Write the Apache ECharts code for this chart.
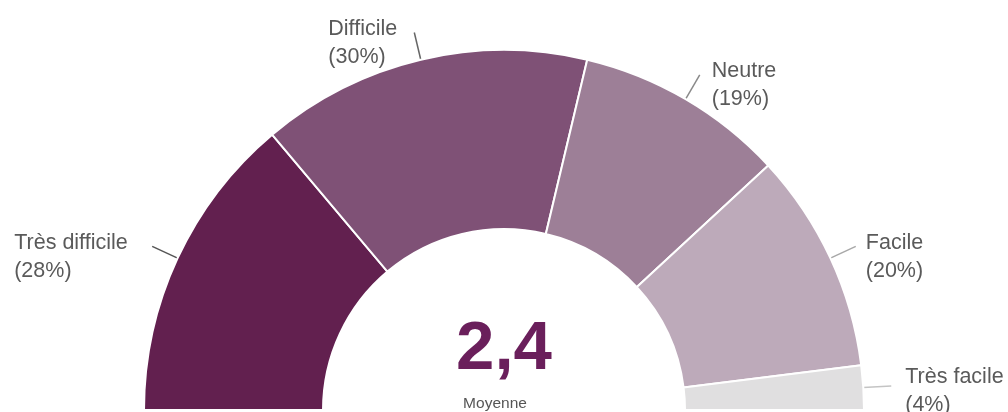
<!DOCTYPE html>
<html>
<head>
<meta charset="utf-8">
<script src="https://cdn.jsdelivr.net/npm/echarts@6/dist/echarts.min.js"></script>
<style>
  html, body { margin: 0; padding: 0; background: #ffffff; }
  #chart { width: 1008px; height: 412px; }
</style>
</head>
<body>
<div id="chart"></div>
<script>
const categories = ['Très difficile', 'Difficile', 'Neutre', 'Facile', 'Très facile'];
const percents = [28, 30, 19, 20, 4];
const colors = ['#62204f', '#7f5176', '#9d7f97', '#bdaaba', '#e0dfe0'];
const lineColors = ['#555555', '#666666', '#8a8a8a', '#a8a8a8', '#c4c4c4'];
const centerValue = '2,4';
const centerLabel = 'Moyenne';

const FONT = 'Liberation Sans, Arial, sans-serif';
const FS = 21.5;
const LH = 28;
// per-label style tweaks: gap to leader line, vertical shift of text block
const gaps = [24, 17, 12, 10, 14];
const shifts = [11, 11, 10, 11, 5];

const ctx = document.createElement('canvas').getContext('2d');
ctx.font = FS + 'px ' + FONT;
function textW(s) { return Math.ceil(ctx.measureText(s).width); }

const chart = echarts.init(document.getElementById('chart'), null, { renderer: 'canvas' });

const data = categories.map((name, i) => {
  const l1 = name, l2 = '(' + percents[i] + '%)';
  const W = Math.max(textW(l1), textW(l2));
  return {
    name: name,
    value: percents[i],
    itemStyle: { color: colors[i] },
    label: {
      distanceToLabelLine: gaps[i],
      rich: {
        s: { fontSize: 1, lineHeight: 2 * shifts[i] },
        t: { width: W, align: 'left', fontSize: FS, lineHeight: LH, fontFamily: FONT, color: '#5a5a5a' }
      }
    },
    labelLine: { lineStyle: { color: lineColors[i] } }
  };
});

chart.setOption({
  backgroundColor: '#ffffff',
  animation: false,
  series: [{
    type: 'pie',
    center: [504, 410],
    radius: [181, 360],
    startAngle: 180,
    endAngle: 360,
    clockwise: true,
    avoidLabelOverlap: false,
    itemStyle: { borderColor: '#ffffff', borderWidth: 2 },
    label: {
      show: true,
      position: 'outside',
      formatter: p => '{s| }\n{t|' + p.name + '}\n{t|(' + p.value + '%)}',
      fontFamily: FONT,
      fontSize: FS,
      lineHeight: LH,
      color: '#5a5a5a'
    },
    labelLine: {
      show: true,
      length: 28,
      length2: 0,
      lineStyle: { width: 1.5 }
    },
    emphasis: { disabled: true },
    data: data
  }],
  graphic: [
    {
      type: 'text',
      x: 504,
      y: 384,
      style: {
        text: centerValue,
        fontFamily: FONT,
        fontWeight: 'bold',
        fontSize: 69,
        fill: '#6a1f5b',
        textAlign: 'center',
        textVerticalAlign: 'bottom'
      }
    },
    {
      type: 'text',
      x: 495,
      y: 396,
      style: {
        text: centerLabel,
        fontFamily: FONT,
        fontSize: 15.5,
        fill: '#555555',
        textAlign: 'center',
        textVerticalAlign: 'top'
      }
    }
  ]
});
</script>
</body>
</html>
